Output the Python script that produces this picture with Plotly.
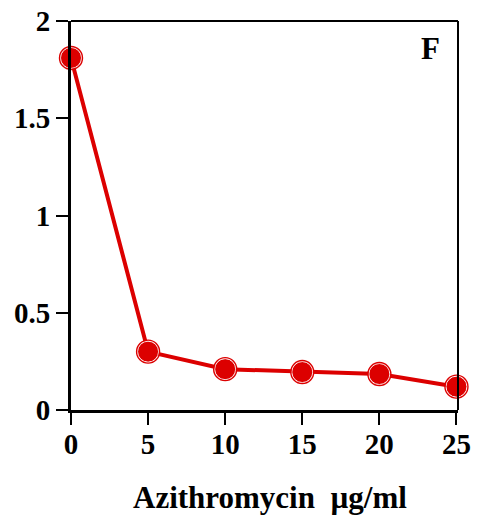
import plotly.graph_objects as go

# Azithromycin concentration (µg/ml) and measured response
concentration = [0, 5, 10, 15, 20, 25]
response = [1.81, 0.30, 0.21, 0.195, 0.185, 0.12]

x_ticks = [0, 5, 10, 15, 20, 25]
y_ticks = [0, 0.5, 1, 1.5, 2]
y_tick_labels = ["0", "0.5", "1", "1.5", "2"]

red = "#dc0000"
font_family = "Liberation Serif, Times New Roman, serif"

fig = go.Figure()
fig.add_trace(go.Scatter(
    x=concentration, y=response,
    mode="lines+markers",
    line=dict(color=red, width=4),
    marker=dict(symbol="circle", size=21, color=red,
                line=dict(color="white", width=0.9)),
    showlegend=False,
    cliponaxis=False,
))
# thin red rim around each marker
fig.add_trace(go.Scatter(
    x=concentration, y=response,
    mode="markers",
    marker=dict(symbol="circle-open", size=23, color=red,
                line=dict(color=red, width=1.4)),
    showlegend=False,
    hoverinfo="skip",
    cliponaxis=False,
))

axis_common = dict(
    showgrid=False, zeroline=False, automargin=False,
    showline=True, linecolor="black", linewidth=3,
    ticks="outside", ticklen=12, tickwidth=2, tickcolor="black",
    tickfont=dict(family=font_family, size=29, color="black", weight="bold"),
)

fig.update_xaxes(
    range=[0, 25.1], tickvals=x_ticks,
    ticklabelstandoff=-6,
    **axis_common,
)
fig.update_yaxes(
    range=[0, 2], tickvals=y_ticks, ticktext=y_tick_labels,
    ticklabelstandoff=0,
    **axis_common,
)

# top and right frame lines
fig.add_shape(type="line", xref="paper", yref="paper", x0=0, x1=1, y0=1, y1=1,
              line=dict(color="black", width=2))
fig.add_shape(type="line", xref="paper", yref="paper", x0=1, x1=1, y0=0, y1=1,
              line=dict(color="black", width=2))

fig.add_annotation(
    text="<b>F</b>", xref="paper", yref="paper", x=0.93, y=0.93,
    showarrow=False, xanchor="center", yanchor="middle",
    font=dict(family=font_family, size=31, color="black"),
)
fig.add_annotation(
    text="<b>Azithromycin  \u00b5g/ml</b>", xref="paper", yref="paper",
    x=0.515, y=-0.225, showarrow=False, xanchor="center", yanchor="middle",
    font=dict(family=font_family, size=31, color="black"),
)

fig.update_layout(
    width=477, height=518,
    margin=dict(l=71, r=19, t=21, b=108),
    plot_bgcolor="white", paper_bgcolor="white",
)

fig.write_html("out.html")
